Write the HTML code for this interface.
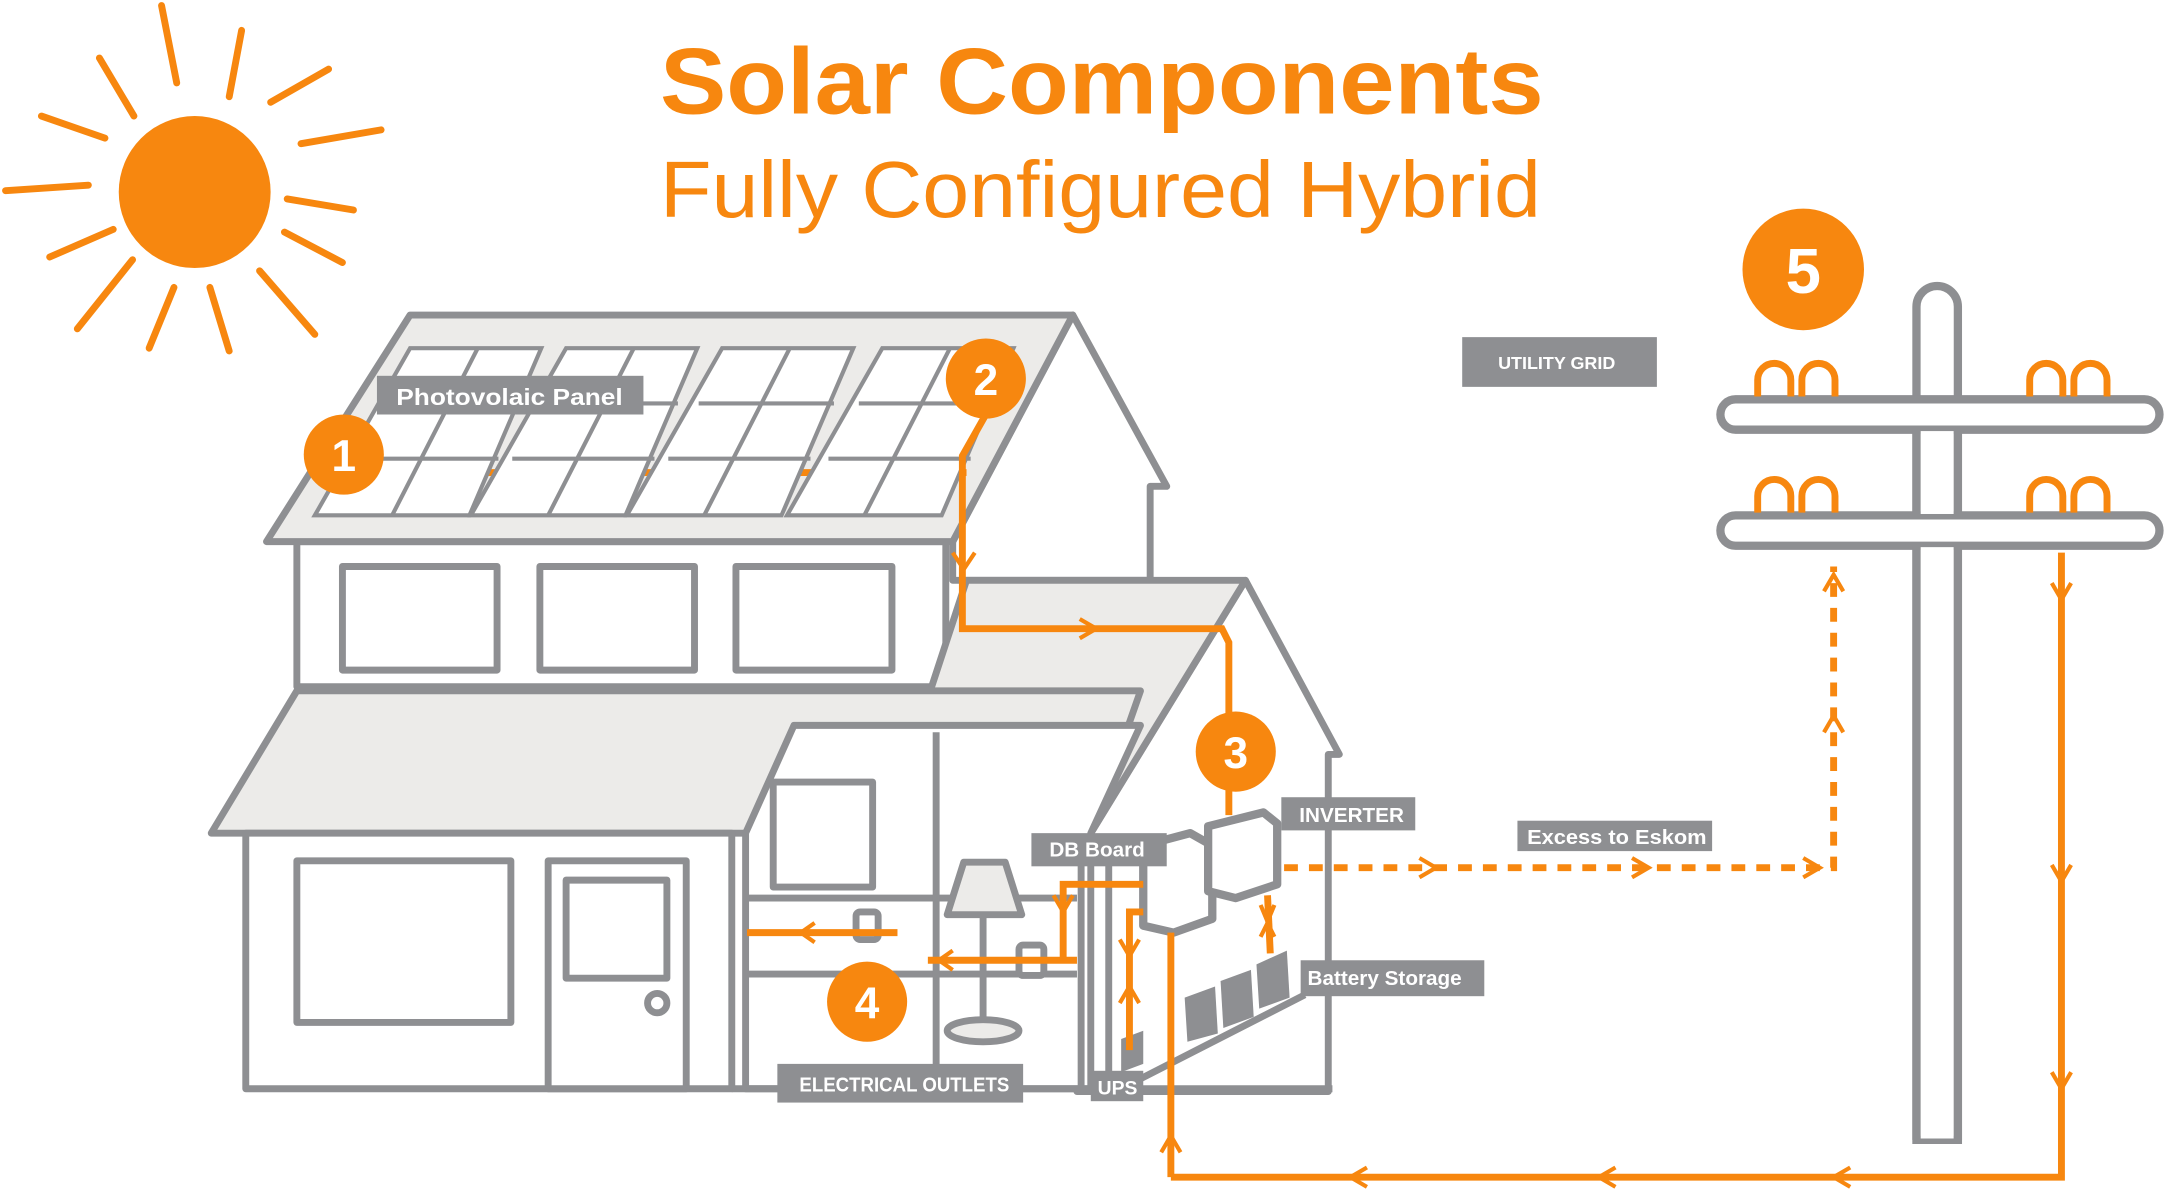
<!DOCTYPE html>
<html><head><meta charset="utf-8"><style>
html,body{margin:0;padding:0;background:#fff;}
svg{display:block}
text{font-family:"Liberation Sans",sans-serif}
</style></head><body>
<svg width="2165" height="1191" viewBox="0 0 1568 862" preserveAspectRatio="none" xmlns="http://www.w3.org/2000/svg">
<rect width="1568" height="862" fill="#fff"/>
<g stroke="#f7870f" stroke-width="5" stroke-linecap="round">
<line x1="117" y1="4" x2="128" y2="60"/><line x1="175" y1="22" x2="166" y2="70"/>
<line x1="72" y1="42" x2="97" y2="84"/><line x1="196" y1="74" x2="238" y2="50"/>
<line x1="30" y1="84" x2="76" y2="100"/><line x1="218" y1="104" x2="276" y2="94"/>
<line x1="4" y1="138" x2="64" y2="134"/><line x1="208" y1="144" x2="256" y2="152"/>
<line x1="36" y1="186" x2="82" y2="166"/><line x1="206" y1="168" x2="248" y2="190"/>
<line x1="56" y1="238" x2="96" y2="188"/><line x1="188" y1="196" x2="228" y2="242"/>
<line x1="108" y1="252" x2="126" y2="208"/><line x1="152" y1="208" x2="166" y2="254"/>
</g>
<circle cx="141" cy="139" r="55" fill="#f7870f"/>
<text x="478" y="82" font-size="68" font-weight="bold" fill="#f7870f" textLength="640" lengthAdjust="spacingAndGlyphs">Solar Components</text>
<text x="478" y="157" font-size="58" fill="#f7870f" textLength="638" lengthAdjust="spacingAndGlyphs">Fully Configured Hybrid</text>

<g stroke="#8e8f92" stroke-width="5" stroke-linejoin="round" fill="#fff">
<polygon points="690,392 777,228 845,352 833,352 833,420 690,420"/>
<rect x="215" y="392" width="470" height="105"/>
<rect x="248" y="410" width="112" height="75"/>
<rect x="391" y="410" width="112" height="75"/>
<rect x="533" y="410" width="113" height="75"/>
<polygon points="193,392 297,228 777,228 690,392" fill="#ecebe9"/>
<polygon points="790,603 902,420 970,546 962,546 962,790 780,790" />
<polygon points="700,420 902,420 790,603 640,603" fill="#ecebe9"/>
<polygon points="153,603 215,500 826,500 790,603 540,603" fill="#ecebe9"/>
<rect x="178" y="603" width="352" height="185"/>
<rect x="215" y="623" width="155" height="117"/>
<rect x="397" y="623" width="100" height="165"/>
<rect x="410" y="637" width="73" height="71"/>
<circle cx="476" cy="726" r="7"/>
<polygon points="540,788 540,603 575,525 826,525 790,603 790,788"/>
<line x1="540" y1="650" x2="780" y2="650"/>
<line x1="540" y1="705" x2="780" y2="705"/>
<line x1="678" y1="530" x2="678" y2="788"/>
<rect x="560" y="566" width="72" height="76"/>
<line x1="783" y1="620" x2="783" y2="790"/>
<line x1="803" y1="620" x2="803" y2="790"/>
<line x1="530" y1="788" x2="965" y2="788"/>
<polygon points="698,624 728,624 740,662 686,662" fill="#ecebe9"/>
<line x1="712" y1="662" x2="712" y2="740"/>
<ellipse cx="712" cy="746" rx="26" ry="8" fill="#ecebe9"/>
<rect x="738" y="684" width="18" height="22" rx="3"/>
<rect x="620" y="660" width="16" height="20" rx="3"/>
</g>
<line x1="250" y1="342" x2="700" y2="342" stroke="#f7870f" stroke-width="5"/>
<g fill="#fff" stroke="#8e8f92" stroke-width="3">
<g id="pan">
<polygon points="297,252 392,252 340,373 228,373"/>
<line x1="346" y1="252" x2="284" y2="373"/>
<line x1="280" y1="292" x2="378" y2="292"/><line x1="258" y1="332" x2="361" y2="332"/>
</g>
<use href="#pan" transform="translate(113,0)"/>
<use href="#pan" transform="translate(226,0)"/>
<use href="#pan" transform="translate(342,0)"/>
</g>
<g fill="#8e8f92"><polygon points="858,722 880,714 882,748 860,754"/><polygon points="884,710 906,702 908,736 886,744"/><polygon points="910,698 932,688 934,722 912,730"/><polygon points="812,752 828,746 828,770 812,776"/></g>
<line x1="808" y1="790" x2="945" y2="720" stroke="#8e8f92" stroke-width="5"/>
<g stroke="#8e8f92" stroke-width="6" fill="#fff" stroke-linejoin="round">
<path d="M828,612 L862,603 L878,612 L878,665 L850,675 L828,670 Z"/>
<path d="M875,598 L915,588 L925,596 L925,640 L895,650 L875,645 Z"/>
</g>
<g stroke="#f7870f" stroke-width="5" fill="none">
<path d="M714,300 L697,330 L697,455 L885,455 L890,465 L890,590"/>
<path d="M541,675 L650,675"/><path d="M672,695 L780,695"/>
<path d="M770,695 L770,640 L828,640"/>
<line x1="848" y1="675" x2="848" y2="852"/>
<path d="M848,852 L1493,852 L1493,400"/>
<path d="M818,760 L818,660 L828,660"/>
<line x1="918" y1="648" x2="920" y2="690"/>
<path d="M930,628 L1328,628 L1328,410" stroke-dasharray="10,8"/>
</g>
<g stroke="#f7870f" stroke-width="3" fill="none">
<polyline points="690,400 698,412 706,400"/><polyline points="782,448 794,455 782,462"/>
<polyline points="1028,621 1040,628 1028,635"/><polyline points="1182,621 1194,628 1182,635"/><polyline points="1306,621 1318,628 1306,635"/>
<polyline points="1321,530 1328,518 1335,530"/><polyline points="1321,428 1328,416 1335,428"/>
<polyline points="1486,422 1493,434 1500,422"/><polyline points="1486,626 1493,638 1500,626"/><polyline points="1486,776 1493,788 1500,776"/>
<polyline points="1340,845 1328,852 1340,859"/><polyline points="1170,845 1158,852 1170,859"/><polyline points="990,845 978,852 990,859"/>
<polyline points="841,834 848,822 855,834"/>
<polyline points="763,648 770,660 777,648"/><polyline points="811,680 818,692 825,680"/><polyline points="811,726 818,714 825,726"/>
<polyline points="913,655 918,667 923,655"/><polyline points="913,678 918,668 923,678"/>
<polyline points="590,668 580,675 590,682"/><polyline points="690,688 680,695 690,702"/>
</g>
<g stroke="#8e8f92" stroke-width="6" fill="#fff">
<path d="M1388,825 L1388,222 A15,15 0 0 1 1418,222 L1418,825 Z"/>
<rect x="1246" y="289" width="318" height="22" rx="11"/>
<rect x="1246" y="373" width="318" height="22" rx="11"/>
</g>
<rect x="1391" y="312" width="24" height="60" fill="#fff"/>
<rect x="1391" y="396" width="24" height="428" fill="#fff"/>
<line x1="1388" y1="311" x2="1388" y2="373" stroke="#8e8f92" stroke-width="6"/><line x1="1418" y1="311" x2="1418" y2="373" stroke="#8e8f92" stroke-width="6"/>
<line x1="1388" y1="395" x2="1388" y2="825" stroke="#8e8f92" stroke-width="6"/><line x1="1418" y1="395" x2="1418" y2="825" stroke="#8e8f92" stroke-width="6"/>
<g stroke="#f7870f" stroke-width="5" fill="none">
<path d="M1273,287 V275 a12,12 0 0 1 24,0 V287 M1305,287 V275 a12,12 0 0 1 24,0 V287"/>
<path d="M1470,287 V275 a12,12 0 0 1 24,0 V287 M1502,287 V275 a12,12 0 0 1 24,0 V287"/>
<path d="M1273,371 V359 a12,12 0 0 1 24,0 V371 M1305,371 V359 a12,12 0 0 1 24,0 V371"/>
<path d="M1470,371 V359 a12,12 0 0 1 24,0 V371 M1502,371 V359 a12,12 0 0 1 24,0 V371"/>
</g>
<g fill="#f7870f"><circle cx="249" cy="329" r="29"/><circle cx="714" cy="274" r="29"/><circle cx="895" cy="544" r="29"/><circle cx="628" cy="725" r="29"/><circle cx="1306" cy="195" r="44"/></g>
<g fill="#fff" font-weight="bold" text-anchor="middle"><text x="249" y="341" font-size="32">1</text><text x="714" y="286" font-size="32">2</text><text x="895" y="556" font-size="32">3</text><text x="628" y="737" font-size="32">4</text><text x="1306" y="212" font-size="46">5</text></g>
<g fill="#8e8f92"><rect x="273" y="272" width="193" height="28"/><rect x="1059" y="244" width="141" height="36"/><rect x="928" y="577" width="97" height="24"/><rect x="747" y="603" width="98" height="24"/><rect x="1099" y="594" width="141" height="22"/><rect x="942" y="695" width="133" height="26"/><rect x="563" y="770" width="178" height="28"/><rect x="790" y="775" width="38" height="22"/></g>
<g fill="#fff" font-weight="bold"><text x="287" y="293" font-size="17" textLength="164" lengthAdjust="spacingAndGlyphs">Photovolaic Panel</text><text x="1085" y="267" font-size="13">UTILITY GRID</text><text x="941" y="595" font-size="15">INVERTER</text><text x="760" y="620" font-size="15">DB Board</text><text x="1106" y="611" font-size="15" textLength="130" lengthAdjust="spacingAndGlyphs">Excess to Eskom</text><text x="947" y="713" font-size="15">Battery Storage</text><text x="579" y="790" font-size="15" textLength="152" lengthAdjust="spacingAndGlyphs">ELECTRICAL OUTLETS</text><text x="795" y="792" font-size="14">UPS</text></g>
</svg>
</body></html>
